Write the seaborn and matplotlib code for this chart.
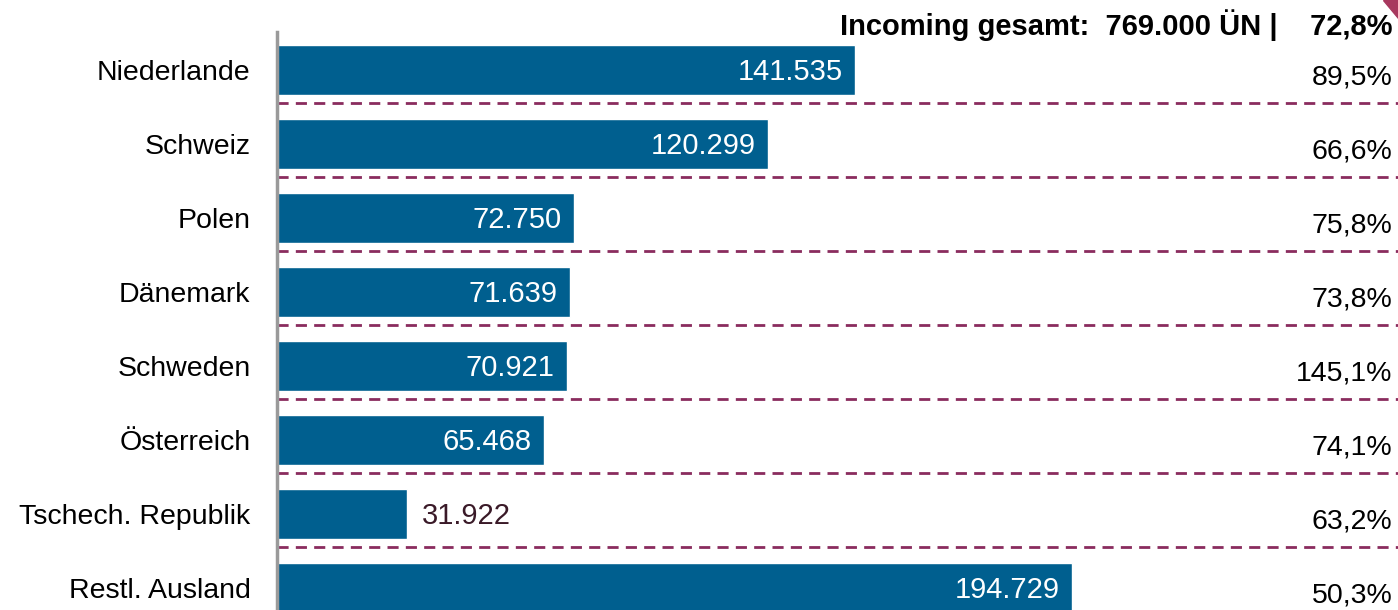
import matplotlib.pyplot as plt
import matplotlib.patches as mpatches
import seaborn as sns
import pandas as pd

laender = ['Niederlande', 'Schweiz', 'Polen', 'Dänemark', 'Schweden',
           'Österreich', 'Tschech. Republik', 'Restl. Ausland']
uebernachtungen = [141535, 120299, 72750, 71639, 70921, 65468, 31922, 194729]
anteile = ['89,5%', '66,6%', '75,8%', '73,8%', '145,1%', '74,1%', '63,2%', '50,3%']
kopfzeile = 'Incoming gesamt:  769.000 ÜN |    72,8%'

sns.set_style('white')
plt.rcParams['font.family'] = ['Liberation Sans', 'DejaVu Sans']
plt.rcParams['text.color'] = 'black'
plt.rcParams['ytick.color'] = 'black'

df = pd.DataFrame({'land': laender, 'wert': uebernachtungen})

fig = plt.figure(figsize=(13.98, 6.10), dpi=100)
ax = fig.add_axes([277 / 1398, 0, 1 - 277 / 1398, 1 - 32 / 610])

sns.barplot(data=df, x='wert', y='land', orient='h', color='#005f8f',
            saturation=1, width=0.68, ax=ax)

ax.set_xlim(0, 274500)
ax.set_ylim(7.297, -0.514)
ax.set_xlabel('')
ax.set_ylabel('')
ax.set_xticks([])
ax.tick_params(axis='y', length=0, labelsize=20.5, pad=19, labelcolor='black')
for s in ['top', 'right', 'bottom']:
    ax.spines[s].set_visible(False)
ax.spines['left'].set_color('#9a9a9a')
ax.spines['left'].set_linewidth(2.5)

# gestrichelte Trennlinien
for i in range(len(laender) - 1):
    ax.axhline(i + 0.45, color='#8a2c5e', lw=2, ls=(0, (4, 2.6)), zorder=0)

# Werte an den Balken
for i, v in enumerate(uebernachtungen):
    txt = f'{v:,}'.replace(',', '.')
    if v > 50000:
        ax.text(v - 3000, i + 0.03, txt, color='white', fontsize=21,
                ha='right', va='center')
    else:
        ax.text(v + 3500, i + 0.03, txt, color='#3a1a28', fontsize=21,
                ha='left', va='center')

# Prozentspalte rechts
for i, p in enumerate(anteile):
    ax.annotate(p, xy=(1, i + 0.1), xycoords=('axes fraction', 'data'),
                xytext=(-4, 0), textcoords='offset points',
                fontsize=20.5, ha='right', va='center')

fig.text(1393 / 1398, 1 - 25 / 610, kopfzeile, fontsize=21, fontweight='bold',
         ha='right', va='center')

# Eckmarke oben rechts
fig.patches.append(mpatches.Polygon([[1383 / 1398, 1], [1398 / 1398, 1],
                                     [1398 / 1398, 1 - 18 / 610]],
                                    closed=True, color='#a8385e',
                                    transform=fig.transFigure))

fig.savefig('out.png', dpi=100)
